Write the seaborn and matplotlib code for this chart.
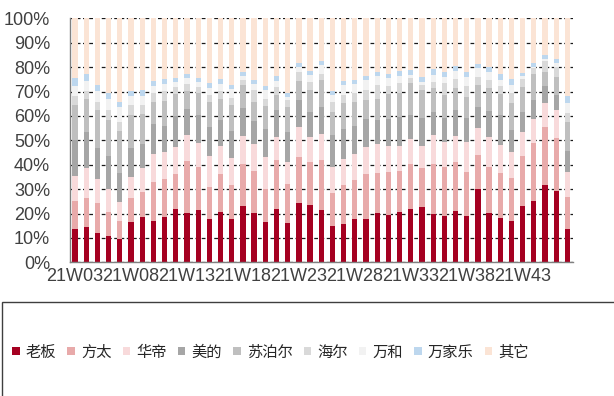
import numpy as np
import pandas as pd
import matplotlib
matplotlib.use("Agg")
import matplotlib.pyplot as plt
from matplotlib.patches import Patch, Rectangle
from matplotlib.ticker import FixedLocator
import seaborn as sns

# Weekly market share (%) by brand, 2021 W03 - W47
weeks = ["21W03", "21W04", "21W05", "21W06", "21W07", "21W08", "21W09", "21W10",
         "21W11", "21W12", "21W13", "21W14", "21W15", "21W16", "21W17", "21W18",
         "21W19", "21W20", "21W21", "21W22", "21W23", "21W24", "21W25", "21W26",
         "21W27", "21W28", "21W29", "21W30", "21W31", "21W32", "21W33", "21W34",
         "21W35", "21W36", "21W37", "21W38", "21W39", "21W40", "21W41", "21W42",
         "21W43", "21W44", "21W45", "21W46", "21W47"]
tick_labels = ["21W03", "21W08", "21W13", "21W18", "21W23", "21W28", "21W33", "21W38", "21W43"]

brands = ["老板", "方太", "华帝", "美的", "苏泊尔", "海尔", "万和", "万家乐", "其它"]

laoban = [13.5, 14.4, 11.9, 10.7, 9.7, 16.7, 18.7, 16.8, 18.7, 22.0, 20.3, 21.6, 17.8, 20.6, 17.8,
          23.1, 20.2, 16.5, 22.0, 16.1, 24.5, 23.4, 21.6, 14.9, 15.8, 17.9, 17.9, 20.2, 19.5, 20.8,
          21.7, 22.8, 19.7, 19.1, 21.2, 19.1, 29.9, 20.4, 18.0, 16.9, 23.1, 25.1, 31.7, 29.4, 13.5]
fangtai = [11.8, 12.1, 12.6, 9.8, 7.3, 9.8, 10.3, 16.0, 15.3, 14.0, 21.2, 17.4, 13.1, 15.7, 14.0,
           17.3, 17.1, 13.7, 19.8, 15.9, 18.7, 17.7, 20.5, 13.6, 15.8, 15.7, 18.4, 16.4, 17.7, 16.6,
           18.5, 15.7, 20.5, 20.1, 19.8, 17.8, 14.1, 18.8, 18.5, 17.5, 20.5, 23.7, 23.9, 21.7, 13.4]
huadi = [10.0, 12.0, 9.5, 9.6, 7.9, 8.4, 9.5, 11.6, 11.2, 11.4, 10.6, 9.7, 12.5, 11.2, 11.1,
         11.2, 11.1, 13.0, 9.6, 9.1, 12.3, 10.3, 10.4, 10.6, 10.9, 10.7, 11.0, 12.0, 10.5, 10.3,
         10.2, 9.2, 12.0, 10.3, 10.8, 12.6, 11.2, 12.3, 11.6, 11.0, 10.0, 9.9, 9.6, 11.3, 10.0]
meidi = [14.9, 14.8, 13.0, 13.6, 11.6, 12.1, 10.0, 12.3, 10.8, 12.6, 10.8, 11.5, 12.1, 11.0, 10.8,
         11.7, 9.4, 11.6, 10.9, 12.4, 10.9, 10.2, 11.2, 12.9, 12.3, 11.4, 11.6, 9.6, 11.0, 12.0,
         10.0, 11.3, 9.5, 9.5, 10.6, 9.8, 8.6, 10.5, 12.3, 8.8, 8.1, 7.8, 7.1, 6.2, 8.7]
supor = [14.2, 13.6, 15.4, 14.6, 17.5, 13.5, 12.3, 9.1, 10.2, 9.0, 7.4, 9.3, 10.2, 8.6, 10.6,
         9.2, 7.9, 9.1, 6.1, 10.0, 7.9, 8.9, 10.9, 9.5, 10.5, 10.0, 7.8, 8.9, 10.2, 9.6,
         13.2, 11.6, 9.6, 9.6, 8.9, 8.6, 8.9, 9.3, 8.6, 11.0, 10.3, 10.7, 5.8, 7.5, 12.1]
haier = [3.7, 3.5, 3.3, 4.1, 3.6, 3.8, 3.6, 3.7, 3.9, 3.0, 2.8, 2.5, 2.7, 3.1, 3.2,
         2.3, 5.1, 3.2, 3.5, 3.0, 3.7, 3.4, 2.7, 4.0, 3.1, 3.7, 4.1, 5.4, 3.5, 4.1,
         1.8, 2.1, 2.7, 4.8, 3.8, 4.4, 3.1, 3.4, 3.3, 4.1, 3.0, 2.3, 4.4, 4.1, 3.6]
wanhe = [4.1, 3.9, 4.5, 4.7, 6.1, 3.7, 3.7, 2.7, 3.0, 2.0, 2.4, 1.7, 3.0, 2.7, 3.4,
         1.6, 2.1, 3.4, 2.4, 1.1, 2.1, 2.7, 3.4, 3.1, 4.1, 3.5, 3.8, 3.7, 3.0, 3.0,
         1.4, 1.3, 2.8, 2.7, 3.3, 3.8, 3.7, 3.4, 2.4, 3.4, 1.4, 0.7, 0.7, 1.4, 4.1]
wanjiale = [3.2, 2.7, 2.5, 2.4, 2.0, 2.3, 2.6, 2.1, 1.9, 1.5, 1.5, 1.8, 2.1, 2.1, 1.8,
            1.7, 1.8, 1.6, 1.9, 1.7, 1.7, 1.8, 1.8, 1.7, 1.8, 2.0, 1.8, 1.8, 1.8, 2.2,
            2.0, 2.1, 2.3, 2.0, 2.1, 2.0, 1.6, 2.1, 2.5, 2.4, 1.1, 1.4, 1.8, 1.7, 2.8]
qita = [24.6, 23.0, 27.3, 30.5, 34.3, 29.7, 29.3, 25.7, 25.0, 24.5, 23.0, 24.5, 26.5, 25.0, 27.3,
        21.9, 25.3, 27.9, 23.8, 30.7, 18.2, 21.6, 17.5, 29.7, 25.7, 25.1, 23.6, 22.0, 22.8, 21.4,
        21.2, 23.9, 20.9, 21.9, 19.5, 21.9, 18.9, 19.8, 22.8, 24.9, 22.5, 18.4, 15.0, 16.7, 31.8]

colors = ["#A50021", "#E8AAAA", "#F8DADB", "#A6A6A6", "#BFBFBF",
          "#D9D9D9", "#F2F2F2", "#BDD7EE", "#FBE4D5"]

shares = pd.DataFrame(
    {b: s for b, s in zip(brands, [laoban, fangtai, huadi, meidi, supor,
                                    haier, wanhe, wanjiale, qita])},
    index=weeks)
tops = shares.cumsum(axis=1)

sns.set_style("white")
plt.rcParams["font.family"] = ["Liberation Sans", "Noto Sans CJK SC", "DejaVu Sans"]

fig = plt.figure(figsize=(6.14, 3.96), dpi=100)
ax = fig.add_axes([69.5 / 614, (396 - 262.3) / 396, (573 - 69.5) / 614, (262.3 - 18.3) / 396])

# stacked bars: draw cumulative layers from the top series down
for brand, col in reversed(list(zip(brands, colors))):
    sns.barplot(x=weeks, y=tops[brand].values, color=col, saturation=1,
                width=0.47, errorbar=None, linewidth=0, ax=ax, zorder=2)

ax.set_xlim(-0.5, len(weeks) - 0.5)
ax.set_ylim(0, 100)
ax.set_xlabel("")
ax.set_ylabel("")

yt = np.arange(0, 101, 10)
ax.set_yticks(yt)
ax.set_yticklabels([f"{v}%" for v in yt], fontsize=13, color="#404040")
ax.tick_params(axis="y", direction="out", length=5, width=1, color="#808080", pad=9)

ax.xaxis.set_major_locator(FixedLocator([weeks.index(t) for t in tick_labels]))
ax.set_xticklabels(tick_labels, fontsize=13, color="#404040")
ax.xaxis.set_minor_locator(FixedLocator(np.arange(-0.5, len(weeks), 1.0)))
ax.tick_params(axis="x", which="major", length=0, pad=4)
ax.tick_params(axis="x", which="minor", direction="out", length=6, width=1, color="#808080")

ax.yaxis.grid(True, linestyle=(0, (3, 2)), color="#1a1a1a", linewidth=0.9)
ax.xaxis.grid(False)
ax.set_axisbelow(True)

for side in ["top", "right"]:
    ax.spines[side].set_visible(False)
for side in ["left", "bottom"]:
    ax.spines[side].set_color("#808080")
    ax.spines[side].set_linewidth(1)
    ax.spines[side].set_zorder(3)

# legend frame below the chart
frame = Rectangle((2 / 614, -0.1), 1.2, (396 - 302) / 396 + 0.1,
                  transform=fig.transFigure, fill=False, edgecolor="#3f3f3f",
                  linewidth=1, clip_on=False)
fig.add_artist(frame)

handles = [Patch(facecolor=c, edgecolor="none") for c in colors]
fig.legend(handles, brands, loc="center left",
           bbox_to_anchor=(12 / 614, (396 - 352) / 396),
           ncol=len(brands), frameon=False, fontsize=11,
           handlelength=0.5, handleheight=0.5, handletextpad=0.4,
           columnspacing=0.72, borderpad=0, borderaxespad=0,
           prop={"family": ["Noto Sans CJK SC", "DejaVu Sans"], "size": 11})

fig.savefig("out.png", dpi=100)
